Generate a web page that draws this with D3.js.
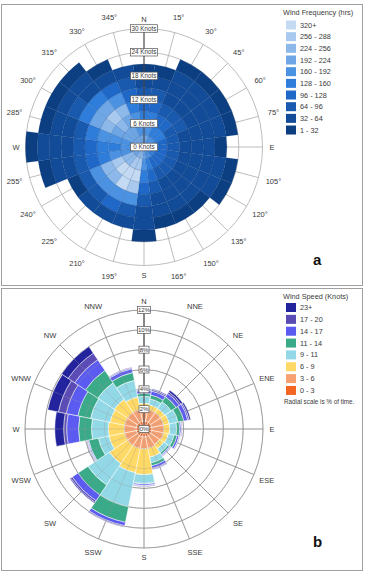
<!DOCTYPE html>
<html>
<head>
<meta charset="utf-8">
<script src="https://cdn.jsdelivr.net/npm/d3@7"></script>
<style>
  body { margin: 0; background: #fff; }
  text { font-family: "Liberation Sans", Arial, sans-serif; fill: #3a3a3a; }
</style>
</head>
<body>
<svg width="365" height="579"></svg>
<script>
// ---------- panel a data (wind frequency, hrs) ----------
var dirAngles = d3.range(0, 360, 15);
var dirLabelsA = ['N','15°','30°','45°','60°','75°','E','105°','120°','135°','150°','165°',
                  'S','195°','210°','225°','240°','255°','W','285°','300°','315°','330°','345°'];
var knotBins = [0, 3, 6, 9, 12, 15, 18, 21, 24, 27, 30];
var ringKnots = [0, 6, 12, 18, 24, 30];
var freqLegend = ['320+','256 - 288','224 - 256','192 - 224','160 - 192','128 - 160','96 - 128','64 - 96','32 - 64','1 - 32'];
var freqColors = ['#c4daf2','#a9c9ee','#8cb8ea','#6ea6e6','#4b92e2','#2f7ddb','#2068c8','#1959ae','#124b98','#0c3f82'];
// hours per 3-knot bin, one row per direction (N clockwise)
var freqHours = [
  [200,170,140,110, 80, 50, 30],
  [200,165,130,100, 70, 45, 30],
  [190,150,110, 80, 60, 40, 35, 20],
  [180,140,100, 70, 50, 40, 35, 20],
  [170,130, 90, 70, 50, 40, 35, 20],
  [160,120, 80, 60, 45, 40, 35, 20],
  [160,110, 80, 55, 40, 35, 20],
  [150,110, 75, 55, 40, 35, 35, 20],
  [150,100, 70, 50, 40, 35, 35, 20],
  [150,100, 70, 45, 35, 35, 20],
  [160,110, 80, 50, 40, 35, 20],
  [180,140,100, 70, 45, 35, 20],
  [200,170,140,100, 70, 45, 35, 20],
  [230,260,330,270,170, 90, 35],
  [240,270,330,290,190,100, 40],
  [220,250,290,250,180, 90, 35],
  [210,240,270,230,160, 80, 30],
  [190,180,170,140,110, 70, 45, 35, 20],
  [180,170,150,140,110, 80, 50, 40, 35, 20],
  [190,180,170,160,130, 90, 50, 35, 20],
  [200,200,220,240,210,150, 70, 40, 20],
  [210,210,240,260,220,140, 60, 35, 20],
  [210,200,220,230,180,110, 50, 30],
  [210,190,170,150,110, 70, 35]
];

// ---------- panel b data (wind speed, % of time) ----------
var compass = ['N','NNE','NE','ENE','E','ESE','SE','SSE','S','SSW','SW','WSW','W','WNW','NW','NNW'];
var speedLegend = ['23+','17 - 20','14 - 17','11 - 14','9 - 11','6 - 9','3 - 6','0 - 3'];
var speedColors = ['#23239e','#5b4bb5','#5b5bf2','#3aaa88','#92d8e6','#ffd966','#f7a072','#f26522'];
var pctRings = [0, 2, 4, 6, 8, 10, 12];
// % per speed bin, from 0-3 up to 23+, one row per compass direction
var speedPct = [
  [0.8,1.2,0.6,0.7,0.3,0.3,0.05,0.05],
  [0.8,1.2,0.5,0.6,0.4,0.4,0.15,0.1],
  [0.8,1.2,0.5,0.8,0.6,0.4,0.2,0.2],
  [0.8,1.2,0.6,0.9,0.6,0.4,0.15,0.15],
  [0.8,1.2,0.6,0.7,0.3,0.15,0.05,0.05],
  [0.8,1.2,0.5,0.6,0.3,0.2,0.05,0.05],
  [0.8,1.1,0.5,0.5,0.2,0.1,0.05,0.05],
  [0.8,1.2,0.9,0.6,0.3,0.25,0.1,0.05],
  [0.8,1.2,2.6,0.9,0.05,0.15,0.05,0.05],
  [0.8,1.2,2.5,3.5,1.6,0.35,0.1,0.05],
  [0.8,1.2,2.2,2.6,1.2,0.7,0.2,0.1],
  [0.8,1.2,1.6,1.1,1.0,0.1,0.05,0.05],
  [0.8,1.2,1.6,1.7,1.3,1.2,0.3,0.9],
  [0.8,1.2,1.5,2.0,1.3,1.2,0.8,1.1],
  [0.8,1.2,1.6,2.0,1.5,1.3,0.8,0.8],
  [0.8,1.2,1.3,1.7,0.8,0.4,0.1,0.05]
];

var svg = d3.select('svg');
var toRad = function(d) { return d * Math.PI / 180; };
var arc = d3.arc();

// panel frames
svg.append('rect').attr('x', 1.5).attr('y', 4.5).attr('width', 361).attr('height', 281)
  .attr('fill', 'none').attr('stroke', '#a0a0a0');
svg.append('rect').attr('x', 1.5).attr('y', 288.5).attr('width', 361).attr('height', 282)
  .attr('fill', 'none').attr('stroke', '#a0a0a0');

// ================= panel a =================
var gA = svg.append('g').attr('transform', 'translate(144,147)');
var rA = d3.scaleLinear().domain([0, 30]).range([0, 118.5]);
var colorA = d3.scaleThreshold()
  .domain([32, 64, 96, 128, 160, 192, 224, 256, 288])
  .range(freqColors.slice().reverse());

gA.selectAll('.ring').data(ringKnots.slice(1)).enter().append('circle')
  .attr('r', function(d) { return rA(d); })
  .attr('fill', 'none').attr('stroke', '#b5b5b5').attr('stroke-width', 0.9);
gA.selectAll('.spoke').data(dirAngles).enter().append('line')
  .attr('x2', function(d) { return rA(30) * Math.sin(toRad(d)); })
  .attr('y2', function(d) { return -rA(30) * Math.cos(toRad(d)); })
  .attr('stroke', '#b5b5b5').attr('stroke-width', 0.9);

var cellsA = [];
freqHours.forEach(function(row, i) {
  row.forEach(function(v, j) {
    cellsA.push({a: dirAngles[i], k0: knotBins[j], k1: knotBins[j + 1], v: v});
  });
});
gA.selectAll('.cell').data(cellsA).enter().append('path')
  .attr('d', function(d) {
    return arc({innerRadius: rA(d.k0), outerRadius: rA(d.k1),
                startAngle: toRad(d.a - 7.5), endAngle: toRad(d.a + 7.5)});
  })
  .attr('fill', function(d) { return colorA(d.v); })
  .attr('stroke', '#0a3370').attr('stroke-opacity', 0.3).attr('stroke-width', 0.5);

// north axis
gA.append('line').attr('y2', -rA(30)).attr('stroke', '#444').attr('stroke-width', 1);

// ring labels
var ringLblA = gA.selectAll('.rlab').data(ringKnots).enter().append('g')
  .attr('transform', function(d) { return 'translate(0,' + (-rA(d)) + ')'; });
ringLblA.append('rect').attr('x', -13.5).attr('y', -3.8).attr('width', 27).attr('height', 7.6)
  .attr('fill', '#fff').attr('stroke', '#555').attr('stroke-width', 0.7);
ringLblA.append('text').attr('text-anchor', 'middle').attr('dy', '0.35em')
  .attr('font-size', 6.3).text(function(d) { return d + ' Knots'; });

// direction labels
gA.selectAll('.dlab').data(dirAngles).enter().append('text')
  .attr('x', function(d, i) { var r = dirLabelsA[i].length > 1 ? 134 : 128; return r * Math.sin(toRad(d)); })
  .attr('y', function(d, i) { var r = dirLabelsA[i].length > 1 ? 134 : 128; return -r * Math.cos(toRad(d)); })
  .attr('text-anchor', 'middle').attr('dy', '0.35em').attr('font-size', 7.5)
  .text(function(d, i) { return dirLabelsA[i]; });

// legend a
svg.append('text').attr('x', 283).attr('y', 15).attr('font-size', 7.3).text('Wind Frequency (hrs)');
var legA = svg.selectAll('.legA').data(freqLegend).enter().append('g')
  .attr('transform', function(d, i) { return 'translate(286,' + (25 + i * 11.67) + ')'; });
legA.append('rect').attr('y', -4.5).attr('width', 10).attr('height', 9)
  .attr('fill', function(d, i) { return freqColors[i]; });
legA.append('text').attr('x', 14).attr('dy', '0.35em').attr('font-size', 7.3).text(function(d) { return d; });

svg.append('text').attr('x', 313).attr('y', 265).attr('font-size', 15).attr('font-weight', 'bold')
  .style('fill', '#111').text('a');

// ================= panel b =================
var gB = svg.append('g').attr('transform', 'translate(144,429)');
var rB = d3.scaleLinear().domain([0, 12]).range([0, 119]);
var compassAngles = compass.map(function(d, i) { return i * 22.5; });

function gridB(g, op) {
  g.selectAll('.ringb').data(pctRings.slice(1)).enter().append('circle')
    .attr('r', function(d) { return rB(d); })
    .attr('fill', 'none').attr('stroke', '#999').attr('stroke-opacity', op).attr('stroke-width', 0.9);
  g.selectAll('.spokeb').data(compassAngles).enter().append('line')
    .attr('x2', function(d) { return rB(12) * Math.sin(toRad(d)); })
    .attr('y2', function(d) { return -rB(12) * Math.cos(toRad(d)); })
    .attr('stroke', '#999').attr('stroke-opacity', op).attr('stroke-width', 0.9);
}
gridB(gB.append('g'), 1);

var cellsB = [];
speedPct.forEach(function(row, i) {
  var cum = [0].concat(Array.from(d3.cumsum(row)));
  row.forEach(function(v, j) {
    cellsB.push({a: compassAngles[i], p0: cum[j], p1: cum[j + 1], c: speedColors[speedColors.length - 1 - j]});
  });
});
gB.selectAll('.cellb').data(cellsB).enter().append('path')
  .attr('d', function(d) {
    return arc({innerRadius: rB(d.p0), outerRadius: rB(d.p1),
                startAngle: toRad(d.a - 11.25), endAngle: toRad(d.a + 11.25)});
  })
  .attr('fill', function(d) { return d.c; })
  .attr('stroke', '#fff').attr('stroke-width', 0.5);

gridB(gB.append('g'), 0.35);
gB.append('line').attr('y2', -rB(12)).attr('stroke', '#444').attr('stroke-width', 1);

var ringLblB = gB.selectAll('.rlabb').data(pctRings).enter().append('g')
  .attr('transform', function(d) { return 'translate(0,' + (-rB(d)) + ')'; });
ringLblB.append('rect')
  .attr('x', function(d) { return d >= 10 ? -6.5 : -5; }).attr('y', -3.5)
  .attr('width', function(d) { return d >= 10 ? 13 : 10; }).attr('height', 7)
  .attr('fill', '#fff').attr('stroke', '#555').attr('stroke-width', 0.7);
ringLblB.append('text').attr('text-anchor', 'middle').attr('dy', '0.35em')
  .attr('font-size', 6).text(function(d) { return d + '%'; });

gB.selectAll('.dlabb').data(compassAngles).enter().append('text')
  .attr('x', function(d, i) { var r = compass[i].length > 1 ? 133 : 128; return r * Math.sin(toRad(d)); })
  .attr('y', function(d, i) { var r = compass[i].length > 1 ? 133 : 128; return -r * Math.cos(toRad(d)); })
  .attr('text-anchor', 'middle').attr('dy', '0.35em').attr('font-size', 7.5)
  .text(function(d, i) { return compass[i]; });

// legend b
svg.append('text').attr('x', 283).attr('y', 299).attr('font-size', 7.3).text('Wind Speed (Knots)');
var legB = svg.selectAll('.legB').data(speedLegend).enter().append('g')
  .attr('transform', function(d, i) { return 'translate(286,' + (307.5 + i * 11.85) + ')'; });
legB.append('rect').attr('y', -4.5).attr('width', 10).attr('height', 9)
  .attr('fill', function(d, i) { return speedColors[i]; });
legB.append('text').attr('x', 14).attr('dy', '0.35em').attr('font-size', 7.3).text(function(d) { return d; });
svg.append('text').attr('x', 284).attr('y', 404).attr('font-size', 6.3).text('Radial scale is % of time.');

svg.append('text').attr('x', 313).attr('y', 547).attr('font-size', 15).attr('font-weight', 'bold')
  .style('fill', '#111').text('b');
</script>
</body>
</html>
